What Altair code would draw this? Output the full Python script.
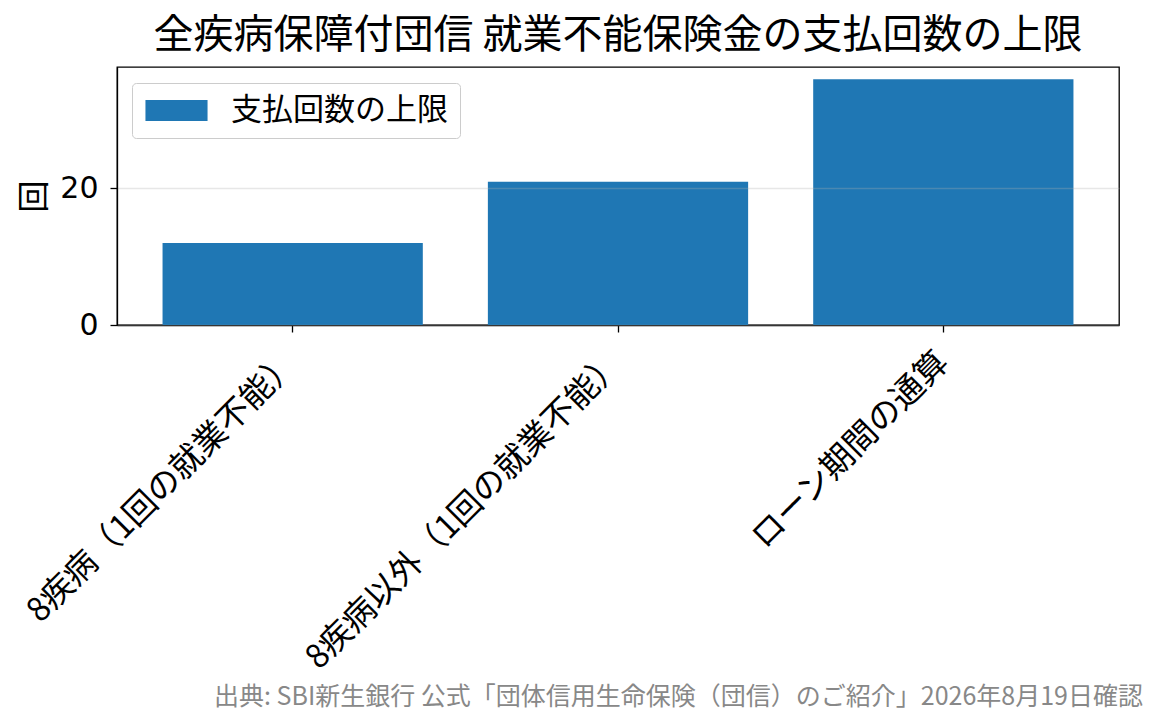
"""
全疾病保障付団信の就業不能保険金: 支払回数の上限 (bar chart)
"""

import altair as alt
import pandas as pd

# data
categories = [
    "8疾病（1回の就業不能）",
    "8疾病以外（1回の就業不能）",
    "ローン期間の通算",
]
pay_limits = [12, 21, 36]
series_name = "支払回数の上限"

title_text = "全疾病保障付団信 就業不能保険金の支払回数の上限"
source_text = "出典: SBI新生銀行 公式「団体信用生命保険（団信）のご紹介」2026年8月19日確認"

font = "Noto Sans CJK JP"
bar_color = "#1f77b4"
c_width = 1002
c_height = 258

df = pd.DataFrame({"category": categories, "count": pay_limits, "series": series_name})

bars = (
    alt.Chart(df)
    .mark_bar(color=bar_color)
    .encode(
        x=alt.X(
            "category:N",
            sort=categories,
            title=None,
            scale=alt.Scale(paddingInner=0.2, paddingOuter=0.14),
            axis=alt.Axis(
                labelAngle=-45,
                labelAlign="right",
                labelBaseline="middle",
                labelPadding=25,
                labelOffset=0,
                labelFontSize=33,
                labelLimit=1000,
                tickSize=7,
                grid=False,
            ),
        ),
        y=alt.Y(
            "count:Q",
            title="回",
            scale=alt.Scale(domain=[0, 37.8], nice=False),
            axis=alt.Axis(
                values=[0, 20],
                labelFont="DejaVu Sans",
                labelFontSize=30,
                labelPadding=12,
                tickSize=7,
                titleFontSize=32,
                titleFontWeight="normal",
                titlePadding=8,
                grid=True,
                gridColor="#b0b0b0",
                gridOpacity=0.3,
                gridWidth=1.3,
                zindex=1,
            ),
        ),
        color=alt.Color(
            "series:N",
            scale=alt.Scale(range=[bar_color]),
            legend=alt.Legend(
                title=None,
                orient="none",
                legendX=15,
                legendY=16,
                symbolType="M-2.07,-0.7L2.07,-0.7L2.07,0.7L-2.07,0.7Z",
                symbolSize=900,
                symbolStrokeWidth=0,
                symbolOpacity=1,
                symbolOffset=17,
                labelFontSize=31,
                labelOffset=39,
                labelLimit=1000,
                labelColor="black",
                padding=12,
                strokeColor="#cccccc",
                fillColor="white",
                cornerRadius=4,
            ),
        ),
    )
)

# source note under the chart
source = (
    alt.Chart(pd.DataFrame({"note": [source_text]}))
    .mark_text(align="right", baseline="alphabetic", fontSize=25, color="#888888", font=font)
    .encode(text="note:N", x=alt.value(1026), y=alt.value(638))
)

chart = (
    (bars + source)
    .properties(
        width=c_width,
        height=c_height,
        title=alt.TitleParams(
            text=title_text,
            fontSize=40,
            fontWeight="normal",
            font=font,
            color="black",
            anchor="middle",
            baseline="alphabetic",
            offset=-21,
        ),
        autosize=alt.AutoSizeParams(type="none"),
        padding={"left": 109, "top": 59, "right": 30, "bottom": 387},
    )
    .configure(font=font)
    .configure_view(stroke="black", strokeWidth=1.3)
    .configure_axis(
        domainColor="black",
        domainWidth=1.3,
        tickColor="black",
        tickWidth=1.3,
        labelColor="black",
        titleColor="black",
        labelFont=font,
        titleFont=font,
    )
    .configure_legend(labelFont=font)
)

chart.save("out.html", embed_options={"renderer": "svg", "actions": False})
